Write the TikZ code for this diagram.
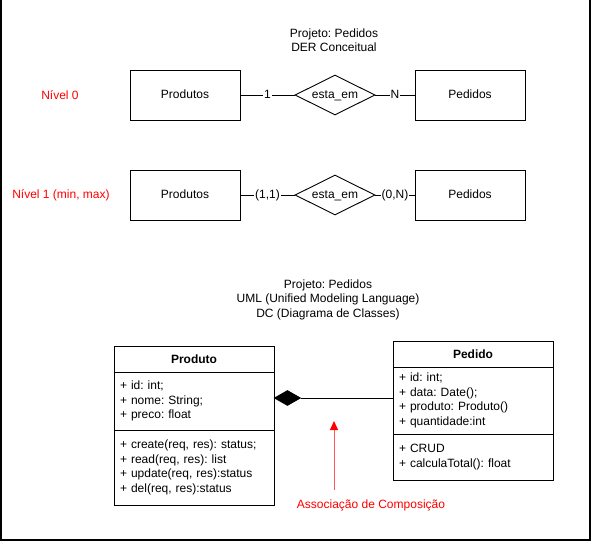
\documentclass[tikz,border=0pt]{standalone}
\usepackage{fontspec}
\setmainfont{Liberation Sans}
\usepackage{tikz}
\usetikzlibrary{calc,positioning,shapes.geometric,arrows.meta}
\frenchspacing

\tikzset{
  entity/.style={draw, minimum width=110, minimum height=50, inner sep=0, text height=9, text depth=3},
  relation/.style={draw, diamond, minimum width=80, minimum height=40, inner sep=0},
  reltext/.style={text height=9, text depth=3, inner sep=0},
  card/.style={fill=white, inner sep=1, text height=9, text depth=3},
  level/.style={red},
  classhead/.style={draw, text width=148, inner xsep=6, inner ysep=0, outer sep=0, minimum height=26, align=center, font=\fontsize{12}{14.5}\selectfont\bfseries},
  classpart/.style={draw, text width=148, inner xsep=6, inner ysep=0, outer sep=0, align=left},
  compo/.style={draw, diamond, fill=black, minimum width=26, minimum height=15, inner sep=0},
  assoc/.style={draw=red!65, line width=1, -{Triangle[width=8pt,length=9pt,color=red]}}
}

\begin{document}
\begin{tikzpicture}[x=1pt,y=-1pt,line width=0.9,font=\fontsize{12}{14.5}\selectfont]
\useasboundingbox (0,0) rectangle (591,541);
%the frame
    \draw[line width=2] (1,0) -- (1,539.5) -- (589.5,539.5) -- (589.5,0);

%DER conceitual
    \node[align=center] (derTitle) at (334,40) {Projeto: Pedidos\\DER Conceitual};

    \node[level] (nivel0) at (60,95) {Nível 0};
    \node[entity] (prod0) at (185,95) {Produtos};
    \node[relation, label={[reltext]center:esta\_em}] (rel0) at (335,95) {};
    \node[entity] (ped0) at (470,95) {Pedidos};
    \draw (prod0) -- node[card]{1} (rel0);
    \draw (rel0) -- node[card]{N} (ped0);

    \node[level] (nivel1) at (61,195) {Nível 1 (min, max)};
    \node[entity] (prod1) at (185,195) {Produtos};
    \node[relation, label={[reltext]center:esta\_em}] (rel1) at (335,195) {};
    \node[entity] (ped1) at (470,195) {Pedidos};
    \draw (prod1) -- node[card]{(1,1)} (rel1);
    \draw (rel1) -- node[card]{(0,N)} (ped1);

%UML - diagrama de classes
    \node[align=center] (umlTitle) at (328,299.5) {Projeto: Pedidos\\UML (Unified Modeling Language)\\DC (Diagrama de Classes)};

    \node[classhead] (prodHead) at (194,359) {Produto};
    \node[classpart, minimum height=58, below=0pt of prodHead] (prodAttr) {+ id: int;\\+ nome: String;\\+ preco: float};
    \node[classpart, minimum height=75, below=0pt of prodAttr] (prodMeth) {+ create(req, res): status;\\+ read(req, res): list\\+ update(req, res):status\\+ del(req, res):status};

    \node[classhead] (pedHead) at (473,354) {Pedido};
    \node[classpart, minimum height=67, below=0pt of pedHead] (pedAttr) {+ id: int;\\+ data: Date();\\+ produto: Produto()\\+ quantidade:int};
    \node[classpart, minimum height=46, below=0pt of pedAttr] (pedMeth) {+ CRUD\\+ calculaTotal(): float};

% composition
    \node[compo, anchor=west] (comp) at ($(prodAttr.east)+(0,-3)$) {};
    \draw (comp.east) -- (comp.east -| pedAttr.west);

    \coordinate (arrowFoot) at (334,490);
    \coordinate (arrowTip) at (334,421);
    \draw[assoc] (arrowFoot) -- (arrowTip);
    \node[red] (assocText) at (371,505) {Associação de Composição};
\end{tikzpicture}
\end{document}
